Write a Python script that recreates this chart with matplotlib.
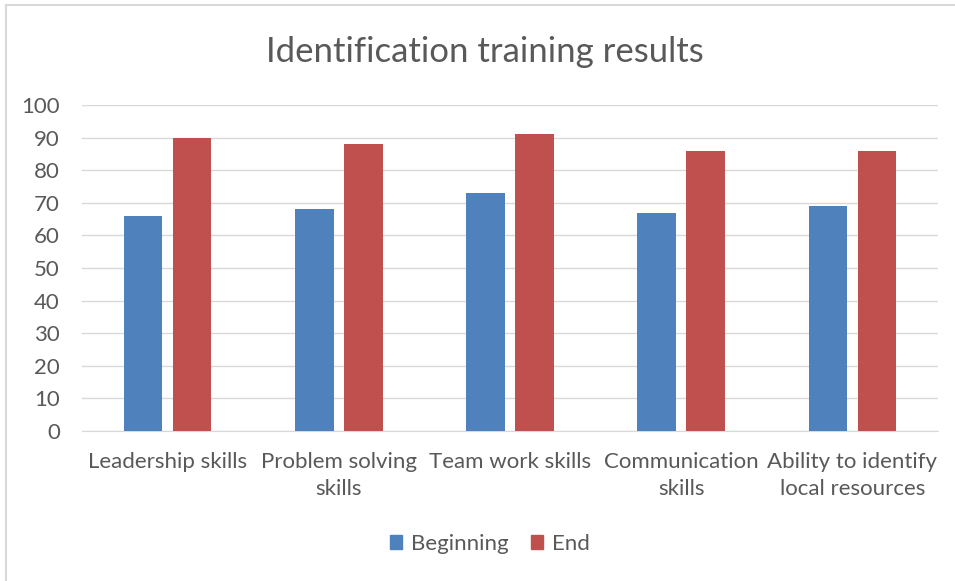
import numpy as np
import matplotlib.pyplot as plt
from matplotlib.lines import Line2D

categories = ["Leadership skills", "Problem solving\nskills", "Team work skills",
              "Communication\nskills", "Ability to identify\nlocal resources"]
beginning = [66, 68, 73, 67, 69]
end = [90, 88, 91, 86, 86]
series_names = ["Beginning", "End"]

BLUE = "#4F81BD"
RED = "#C0504D"
TEXT = "#595959"

plt.rcParams['font.family'] = ['Lato', 'DejaVu Sans']

fig = plt.figure(figsize=(9.55, 5.81), dpi=100)
ax = fig.add_axes([82 / 955, 1 - 431 / 581, (938 - 82) / 955, (431 - 105) / 581])

x = np.arange(len(categories))
w = 0.225
off = 0.143
ax.bar(x - off, beginning, w, color=BLUE, label=series_names[0], zorder=3)
ax.bar(x + off, end, w, color=RED, label=series_names[1], zorder=3)

ax.set_xlim(-0.5, len(categories) - 0.5)
ax.set_ylim(0, 100)
ax.set_yticks(range(0, 101, 10))
ax.yaxis.grid(True, color="#D9D9D9", linewidth=1, zorder=0)
for s in ["top", "right", "left"]:
    ax.spines[s].set_visible(False)
ax.spines["bottom"].set_color("#D9D9D9")
ax.tick_params(axis="both", length=0, labelcolor=TEXT, labelsize=16)
ax.tick_params(axis="y", pad=16)
ax.tick_params(axis="x", pad=15)
ax.set_xticks(x)
ax.set_xticklabels(categories, linespacing=1.45)

fig.text(0.508, 1 - 52 / 581, "Identification training results", ha="center", va="center",
         fontsize=25, color=TEXT)

handles = [plt.Rectangle((0, 0), 1, 1, color=BLUE), plt.Rectangle((0, 0), 1, 1, color=RED)]
fig.legend(handles, series_names, loc="center", bbox_to_anchor=(490 / 955, 1 - 544 / 581),
           ncol=2, frameon=False, fontsize=16, labelcolor=TEXT, handlelength=0.55,
           handleheight=0.55, handletextpad=0.4, columnspacing=1.0)

# chart frame
fig.add_artist(Line2D([6 / 955, 6 / 955], [0, 1 - 5 / 581], transform=fig.transFigure,
                      color="#D9D9D9", linewidth=1.5))
fig.add_artist(Line2D([6 / 955, 1], [1 - 5 / 581, 1 - 5 / 581], transform=fig.transFigure,
                      color="#D9D9D9", linewidth=1.5))

fig.savefig("out.png", dpi=100)
